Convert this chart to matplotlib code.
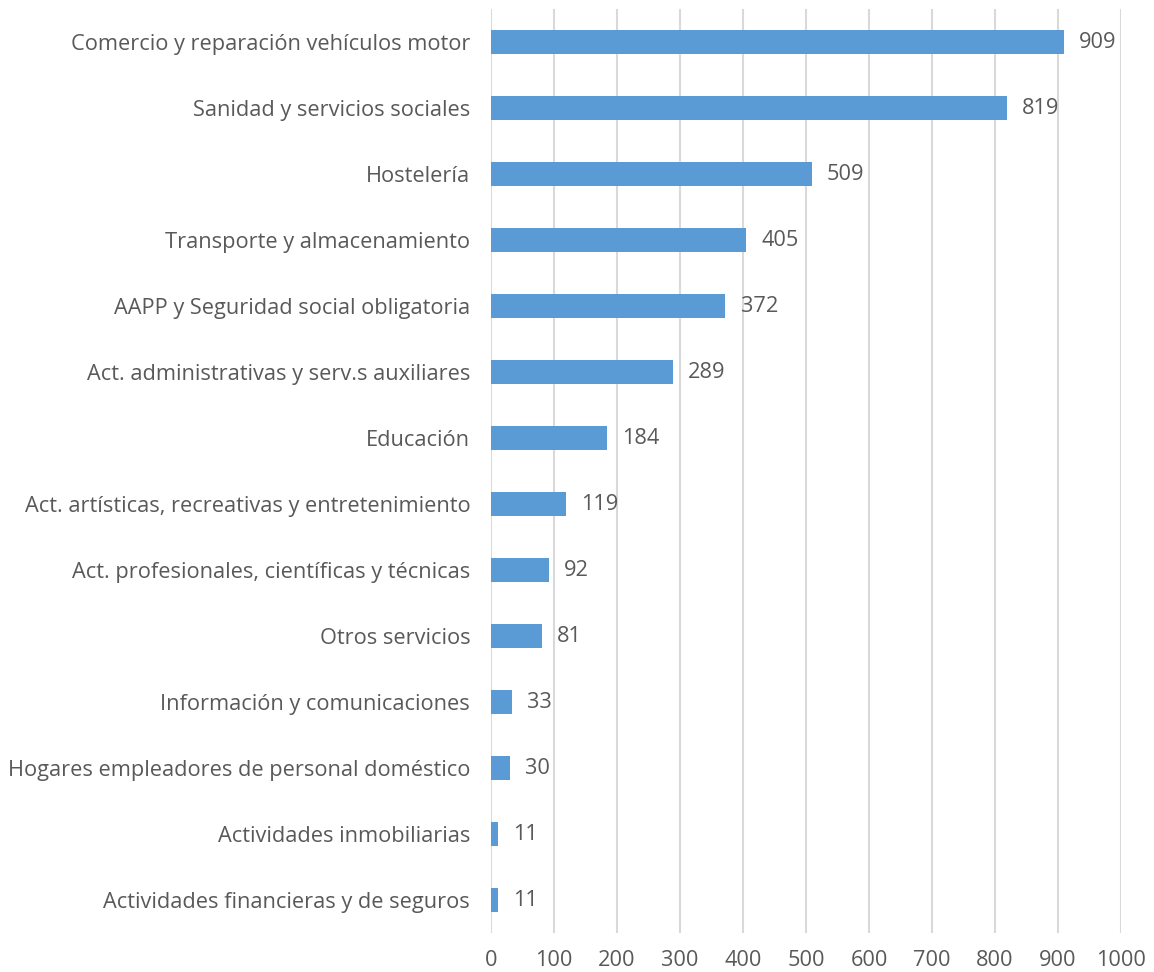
import matplotlib.pyplot as plt

categories = [
    "Comercio y reparación vehículos motor",
    "Sanidad y servicios sociales",
    "Hostelería",
    "Transporte y almacenamiento",
    "AAPP y Seguridad social obligatoria",
    "Act. administrativas y serv.s auxiliares",
    "Educación",
    "Act. artísticas, recreativas y entretenimiento",
    "Act. profesionales, científicas y técnicas",
    "Otros servicios",
    "Información y comunicaciones",
    "Hogares empleadores de personal doméstico",
    "Actividades inmobiliarias",
    "Actividades financieras y de seguros",
]
values = [909, 819, 509, 405, 372, 289, 184, 119, 92, 81, 33, 30, 11, 11]
xticks = list(range(0, 1001, 100))

plt.rcParams["font.family"] = ["Open Sans", "DejaVu Sans"]
text_color = "#595959"
bar_color = "#5B9BD5"
fs = 15.7

fig = plt.figure(figsize=(11.54, 9.72), dpi=100)
ax = fig.add_axes([491 / 1154, 1 - 933 / 972, 630 / 1154, 924 / 972])

ypos = list(range(len(categories)))
ax.barh(ypos, values, height=0.35, color=bar_color, zorder=3)
ax.set_ylim(len(categories) - 0.5, -0.5)
ax.set_xlim(0, 1000)

# value labels just right of each bar
for y, v in zip(ypos, values):
    ax.annotate(str(v), (v, y), xytext=(11, 0), textcoords="offset points",
                ha="left", va="center", fontsize=fs, color=text_color)

ax.set_yticks(ypos)
ax.set_yticklabels(categories, fontsize=fs, color=text_color)
ax.set_xticks(xticks)
ax.set_xticklabels([str(t) for t in xticks], fontsize=fs, color=text_color)
ax.tick_params(axis="both", length=0)
ax.tick_params(axis="y", pad=15)
ax.tick_params(axis="x", pad=12)
ax.grid(axis="x", color="#D9D9D9", lw=1.5, zorder=0)
for s in ax.spines.values():
    s.set_visible(False)

fig.savefig("out.png", dpi=100)
